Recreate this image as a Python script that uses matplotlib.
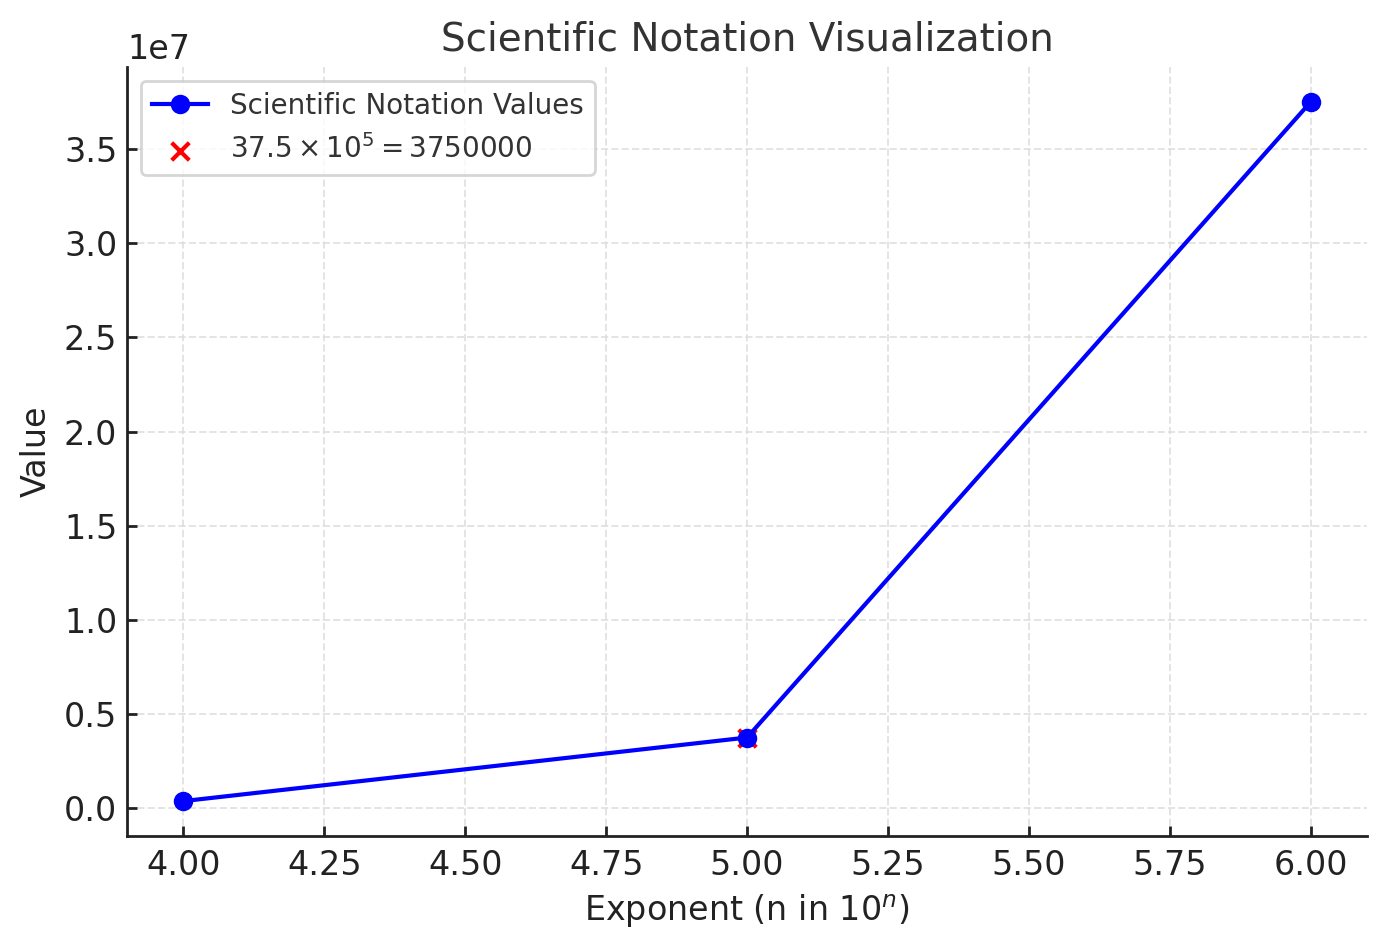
import matplotlib
matplotlib.use("Agg")
import matplotlib.pyplot as plt

# exponentes e valores 37.5 x 10^n
expoentes = [4, 5, 6]
valores = [375000, 3750000, 37500000]
destaque_x = 5
destaque_y = 3750000

plt.rcParams['font.family'] = ['DejaVu Sans']

fig = plt.figure(figsize=(6.935, 4.74), dpi=200)
ax = fig.add_axes([0.0916, 0.1181, 0.894, 0.8112])

ax.scatter([destaque_x], [destaque_y], color='red', marker='x', s=40, zorder=2,
           label=r"$37.5 \times 10^5 = 3750000$")
ax.plot(expoentes, valores, marker='o', color='blue', linewidth=1.5, markersize=6,
        zorder=3, label="Scientific Notation Values")

ax.set_title("Scientific Notation Visualization", fontsize=14, color='#333333')
ax.set_xlabel(r"Exponent (n in $10^n$)", fontsize=12, color='#222222', labelpad=4)
ax.set_ylabel("Value", fontsize=12, color='#222222', labelpad=4)
ax.tick_params(axis='x', labelsize=12, colors='#222222', direction='in', length=3.5,
               width=1.0, pad=4.5)
ax.tick_params(axis='y', labelsize=12, colors='#222222', direction='in', length=3.5,
               width=1.0, pad=3.5)
ax.yaxis.get_offset_text().set_fontsize(12)

ax.grid(True, linestyle='--', color='#dddddd', alpha=0.8, linewidth=0.7)
ax.spines['top'].set_visible(False)
ax.spines['right'].set_visible(False)
for s in ['left', 'bottom']:
    ax.spines[s].set_color('#222222')
    ax.spines[s].set_linewidth(1.0)

# legenda com a linha primeiro
h, l = ax.get_legend_handles_labels()
leg = ax.legend(h[::-1], l[::-1], loc='upper left', fontsize=10)
for t in leg.get_texts():
    t.set_color('#333333')

fig.savefig("out.png", dpi=200)
